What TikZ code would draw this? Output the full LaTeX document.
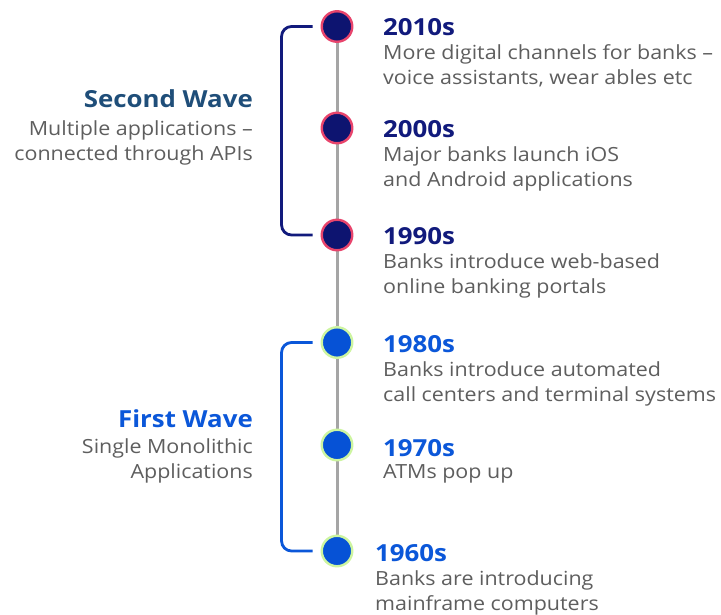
\documentclass[tikz,border=0pt]{standalone}
\usepackage{fontspec}
\setmainfont{Open Sans}[FakeStretch=1.1]
\usetikzlibrary{backgrounds}
\definecolor{navyyear}{HTML}{111A7C}
\definecolor{wavetwo}{HTML}{1F4E79}
\definecolor{waveone}{HTML}{0B57D9}
\definecolor{desc}{HTML}{5E5E5E}
\definecolor{dotnavy}{HTML}{0D1470}
\definecolor{dotpink}{HTML}{E8446C}
\definecolor{dotblue}{HTML}{0652D6}
\definecolor{dotgreen}{HTML}{CDF5A0}
\definecolor{axis}{HTML}{A5A5A5}
\tikzset{
  dotold/.style={circle, draw=dotpink, fill=dotnavy, line width=2.4pt, minimum size=30.5pt, inner sep=0pt},
  dotnew/.style={circle, draw=dotgreen, fill=dotblue, line width=2.4pt, minimum size=30.5pt, inner sep=0pt},
  yearold/.style={anchor=base west, inner sep=0pt, text=navyyear, font=\fontsize{23.5}{26}\selectfont\bfseries},
  yearnew/.style={anchor=base west, inner sep=0pt, text=waveone, font=\fontsize{23.5}{26}\selectfont\bfseries},
  line/.style={anchor=base west, inner sep=0pt, text=desc, font=\fontsize{19.5}{25}\selectfont},
  wavetitle/.style={anchor=base east, inner sep=0pt, font=\fontsize{23.5}{26}\selectfont\bfseries},
  waveline/.style={anchor=base east, inner sep=0pt, text=desc, font=\fontsize{19.5}{25}\selectfont},
  bracket/.style={line width=2.8pt, rounded corners=10pt},
}
\begin{document}
\begin{tikzpicture}[x=1pt,y=-1pt]
\useasboundingbox (0,0) rectangle (721,614);

% timeline dots
\node[dotold] (c2010) at (337,26.5) {};
\node[dotold] (c2000) at (337,128) {};
\node[dotold] (c1990) at (337,235) {};
\node[dotnew] (c1980) at (337,342.5) {};
\node[dotnew] (c1970) at (337,445) {};
\node[dotnew] (c1960) at (337,551) {};

% vertical axis behind the dots
\begin{pgfonlayer}{background}
\fill[white] (0,0) rectangle (721,614);
\draw[axis, line width=3pt] (c2010.center) -- (c1960.center);
\end{pgfonlayer}

% wave brackets
\coordinate (b2top) at ([xshift=-8pt]c2010.west);
\coordinate (b2bot) at ([xshift=-8pt]c1990.west);
\coordinate (b1top) at ([xshift=-8pt]c1980.west);
\coordinate (b1bot) at ([xshift=-8pt]c1960.west);
\draw[bracket, navyyear] (b2top) -| ([xshift=-31pt]b2bot) -- (b2bot);
\draw[bracket, waveone] (b1top) -| ([xshift=-31pt]b1bot) -- (b1bot);

% wave labels
\node[wavetitle, text=wavetwo] (w2t) at (253,107.5) {Second Wave};
\node[waveline] (w2a) at (253,135) {Multiple applications –};
\node[waveline] (w2b) at (253,160) {connected through APIs};
\node[wavetitle, text=waveone] (w1t) at (253,427) {First Wave};
\node[waveline] (w1a) at (253,453) {Single Monolithic};
\node[waveline] (w1b) at (253,478) {Applications};

% milestones
\node[yearold] (y2010) at (383,35) {2010s};
\node[line] (d2010a) at (383,59.5) {More digital channels for banks –};
\node[line] (d2010b) at (383,84.5) {voice assistants, wear ables etc};

\node[yearold] (y2000) at (383,137) {2000s};
\node[line] (d2000a) at (383,161.5) {Major banks launch iOS};
\node[line] (d2000b) at (383,186.5) {and Android applications};

\node[yearold] (y1990) at (383,244) {1990s};
\node[line] (d1990a) at (383,268.5) {Banks introduce web-based};
\node[line] (d1990b) at (383,293.5) {online banking portals};

\node[yearnew] (y1980) at (383,352.5) {1980s};
\node[line] (d1980a) at (383,376.5) {Banks introduce automated};
\node[line] (d1980b) at (383,401.5) {call centers and terminal systems};

\node[yearnew] (y1970) at (383,456) {1970s};
\node[line] (d1970a) at (383,478.5) {ATMs pop up};

\node[yearnew] (y1960) at (375,561) {1960s};
\node[line] (d1960a) at (375,585) {Banks are introducing};
\node[line] (d1960b) at (375,610) {mainframe computers};
\end{tikzpicture}
\end{document}
